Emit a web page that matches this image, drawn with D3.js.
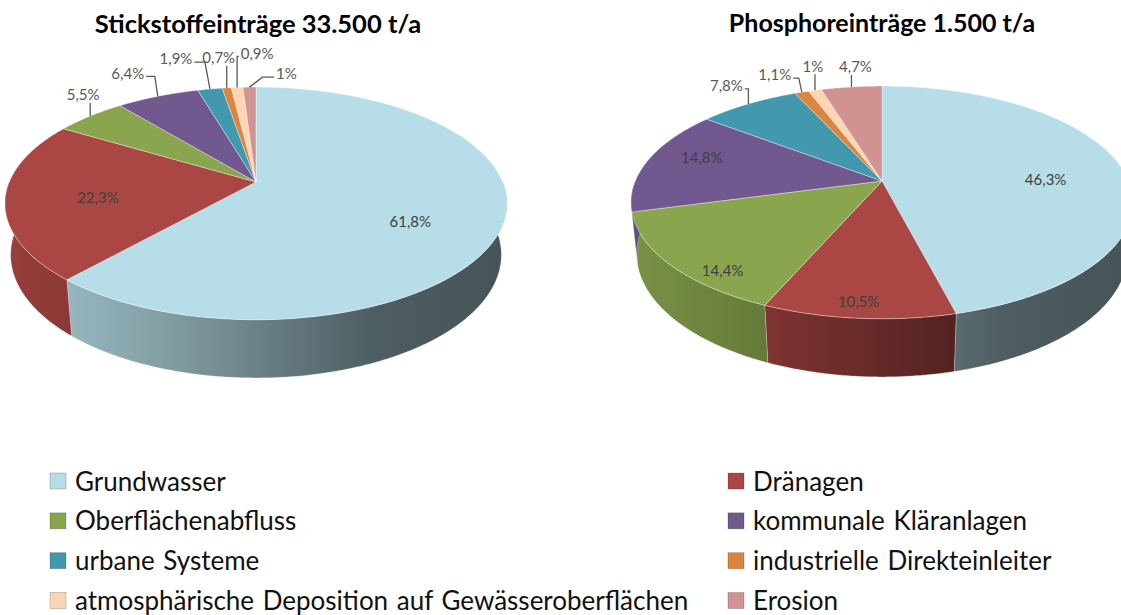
<!DOCTYPE html>
<html lang="de">
<head>
<meta charset="utf-8">
<script src="https://cdn.jsdelivr.net/npm/d3@7"></script>
<style>
  html, body { margin: 0; padding: 0; background: #fff; }
  svg { display: block; font-family: Lato, "Open Sans", sans-serif; }
</style>
</head>
<body>
<svg id="chart" width="1121" height="615"></svg>
<script>
// Eintragspfade (gleiche Reihenfolge in beiden Kreisen und in der Legende)
const categories = [
  "Grundwasser",
  "Dränagen",
  "Oberflächenabfluss",
  "kommunale Kläranlagen",
  "urbane Systeme",
  "industrielle Direkteinleiter",
  "atmosphärische Deposition auf Gewässeroberflächen",
  "Erosion"
];
// Anteile in Prozent
const nitrogenShares   = [61.8, 22.3, 5.5, 6.4, 1.9, 0.7, 0.9, 1];
const phosphorusShares = [46.3, 10.5, 14.4, 14.8, 7.8, 1.1, 1, 4.7];
const chartTitles = ["Stickstoffeinträge 33.500 t/a", "Phosphoreinträge 1.500 t/a"];

const colors = ["#B7DEE8", "#AA4643", "#89A54E", "#71588F", "#4198AF", "#DB843D", "#FCD5B5", "#D19392"];

// Legende: zwei Spalten, zeilenweise gefüllt
const legendOrder = [[0, 1], [2, 3], [4, 5], [6, 7]];

// Beschriftungslayout je Kreis: innen (Versatz) oder außen mit Führungslinie
const nitrogenLabelLayout = [
  { kind: "in",  dx: -15, dy: 11 },
  { kind: "in",  dx: 16,  dy: 4 },
  { kind: "out", tx: -7,  ty: -21, lead: "up", ex: 0 },
  { kind: "out", tx: -30, ty: -23, lead: "right", ex: -3 },
  { kind: "out", tx: -34, ty: -30, lead: "right", ex: -5 },
  { kind: "out", tx: -8,  ty: -30, lead: "up", ex: 0 },
  { kind: "out", tx: 20,  ty: -34, lead: "left", ex: 0 },
  { kind: "out", tx: 37,  ty: -13, lead: "left", ex: 13 }
];
const phosphorusLabelLayout = [
  { kind: "in",  dx: -5,  dy: 8 },
  { kind: "in",  dx: -8,  dy: 31 },
  { kind: "in",  dx: -17, dy: 33 },
  { kind: "in",  dx: -15, dy: -8 },
  { kind: "out", tx: -22, ty: -18, lead: "right", ex: 0 },
  { kind: "out", tx: -27, ty: -17, lead: "right", ex: -3 },
  { kind: "out", tx: -2,  ty: -24, lead: "up", ex: 0 },
  { kind: "out", tx: 4,   ty: -20, lead: "up", ex: 0 }
];

const pies = [
  { title: chartTitles[0], values: nitrogenShares,   layout: nitrogenLabelLayout,   cx: 256, cy: 182, titleX: 258, titleY: 33, titleSize: 25.5 },
  { title: chartTitles[1], values: phosphorusShares, layout: phosphorusLabelLayout, cx: 882, cy: 181, titleX: 882, titleY: 32, titleSize: 25 }
];

// Perspektivische Projektion der Kreisscheibe
const focal = 1194, camDist = 4.84, tilt = 27.1 * Math.PI / 180, depth = 0.236;
const sinT = Math.sin(tilt), cosT = Math.cos(tilt);
function project(p, theta, r, z) {
  const X = r * Math.sin(theta), Y = r * Math.cos(theta);
  const yc = z * cosT + Y * sinT;
  const d = camDist + Y * cosT - z * sinT;
  return [p.cx + focal * X / d, p.cy - focal * yc / d];
}
function arcPoints(p, a0, a1, z) {
  const n = Math.max(2, Math.ceil(Math.abs(a1 - a0) / (Math.PI / 360)));
  return d3.range(n + 1).map(i => project(p, a0 + (a1 - a0) * i / n, 1, z));
}

const svg = d3.select("#chart");
const defs = svg.append("defs");
const line = d3.line();
const fmt = d3.formatLocale({ decimal: ",", thousands: ".", grouping: [3], currency: ["", " €"] }).format(".1~f");
const pieGen = d3.pie().sort(null).value(d => d);

// Abdunklung der Mantelfläche von links nach rechts
const shadeStops = [[0, 0.88], [0.3, 0.72], [0.55, 0.55], [0.75, 0.42], [1, 0.38]];

pies.forEach((p, pi) => {
  const g = svg.append("g");
  const arcs = pieGen(p.values);
  const halfW = focal / camDist;

  // Verläufe für die Mantelflächen
  colors.forEach((col, ci) => {
    const grad = defs.append("linearGradient")
      .attr("id", `side-${pi}-${ci}`)
      .attr("gradientUnits", "userSpaceOnUse")
      .attr("x1", p.cx - halfW).attr("x2", p.cx + halfW)
      .attr("y1", 0).attr("y2", 0);
    const base = d3.rgb(col);
    shadeStops.forEach(([t, k]) => {
      grad.append("stop").attr("offset", t)
        .attr("stop-color", d3.rgb(base.r * k, base.g * k, base.b * k).formatHex());
    });
  });

  // Mantelflächen (nur vordere Hälfte sichtbar)
  arcs.forEach((a, i) => {
    const s0 = Math.max(a.startAngle, Math.PI / 2);
    const s1 = Math.min(a.endAngle, 3 * Math.PI / 2);
    if (s1 <= s0) return;
    const pts = arcPoints(p, s0, s1, 0).concat(arcPoints(p, s1, s0, -depth));
    g.append("path")
      .attr("d", line(pts) + "Z")
      .attr("fill", `url(#side-${pi}-${i})`)
      .attr("stroke", "rgba(255,255,255,0.35)")
      .attr("stroke-width", 0.7);
  });

  // Deckflächen
  arcs.forEach((a, i) => {
    const pts = [project(p, 0, 0, 0)].concat(arcPoints(p, a.startAngle, a.endAngle, 0));
    g.append("path")
      .attr("d", line(pts) + "Z")
      .attr("fill", colors[i])
      .attr("stroke", "rgba(255,255,255,0.45)")
      .attr("stroke-width", 0.8)
      .attr("stroke-linejoin", "round");
  });

  // Titel
  svg.append("text")
    .attr("x", p.titleX).attr("y", p.titleY)
    .attr("text-anchor", "middle")
    .attr("font-weight", 700)
    .attr("font-size", p.titleSize)
    .attr("fill", "#000")
    .text(p.title);

  // Datenbeschriftungen
  arcs.forEach((a, i) => {
    const L = p.layout[i];
    const mid = (a.startAngle + a.endAngle) / 2;
    const label = fmt(a.data) + "%";
    if (L.kind === "in") {
      const [x, y] = project(p, mid, 0.7, 0);
      g.append("text")
        .attr("x", x + L.dx).attr("y", y + L.dy)
        .attr("dy", "0.35em")
        .attr("text-anchor", "middle")
        .attr("font-size", 15)
        .attr("fill", "#404040")
        .text(label);
      return;
    }
    const [ax, ay] = project(p, mid, 1, 0);
    const tx = ax + L.tx, ty = ay + L.ty;
    const t = g.append("text")
      .attr("x", tx).attr("y", ty)
      .attr("dy", "0.35em")
      .attr("text-anchor", "middle")
      .attr("font-size", 15)
      .attr("fill", "#595959")
      .text(label);
    const w = t.node().getComputedTextLength();
    let pts;
    if (L.lead === "up") {
      pts = [[ax, ay], [ax + L.ex, ty + 8]];
    } else if (L.lead === "right") {
      pts = [[ax, ay], [ax + L.ex, ty + 3], [tx + w / 2 + 2, ty + 3]];
    } else {
      pts = [[ax, ay], [ax + L.ex, ty + 3], [tx - w / 2 - 2, ty + 3]];
    }
    g.append("path")
      .attr("d", line(pts))
      .attr("fill", "none")
      .attr("stroke", "#595959")
      .attr("stroke-width", 1.3);
  });
});

// Legende
const legend = svg.append("g");
const colX = [50, 728];
const rowY = d3.scalePoint().domain(d3.range(legendOrder.length)).range([481.5, 601]);
legendOrder.forEach((row, r) => {
  row.forEach((ci, c) => {
    const y = rowY(r);
    legend.append("rect")
      .attr("x", colX[c]).attr("y", y - 8.5)
      .attr("width", 16).attr("height", 16)
      .attr("fill", colors[ci])
      .attr("stroke", "rgba(0,0,0,0.18)")
      .attr("stroke-width", 1);
    legend.append("text")
      .attr("x", colX[c] + 25).attr("y", y + 9)
      .attr("font-size", 26)
      .attr("word-spacing", 2)
      .attr("fill", "#111")
      .text(categories[ci]);
  });
});
</script>
</body>
</html>
